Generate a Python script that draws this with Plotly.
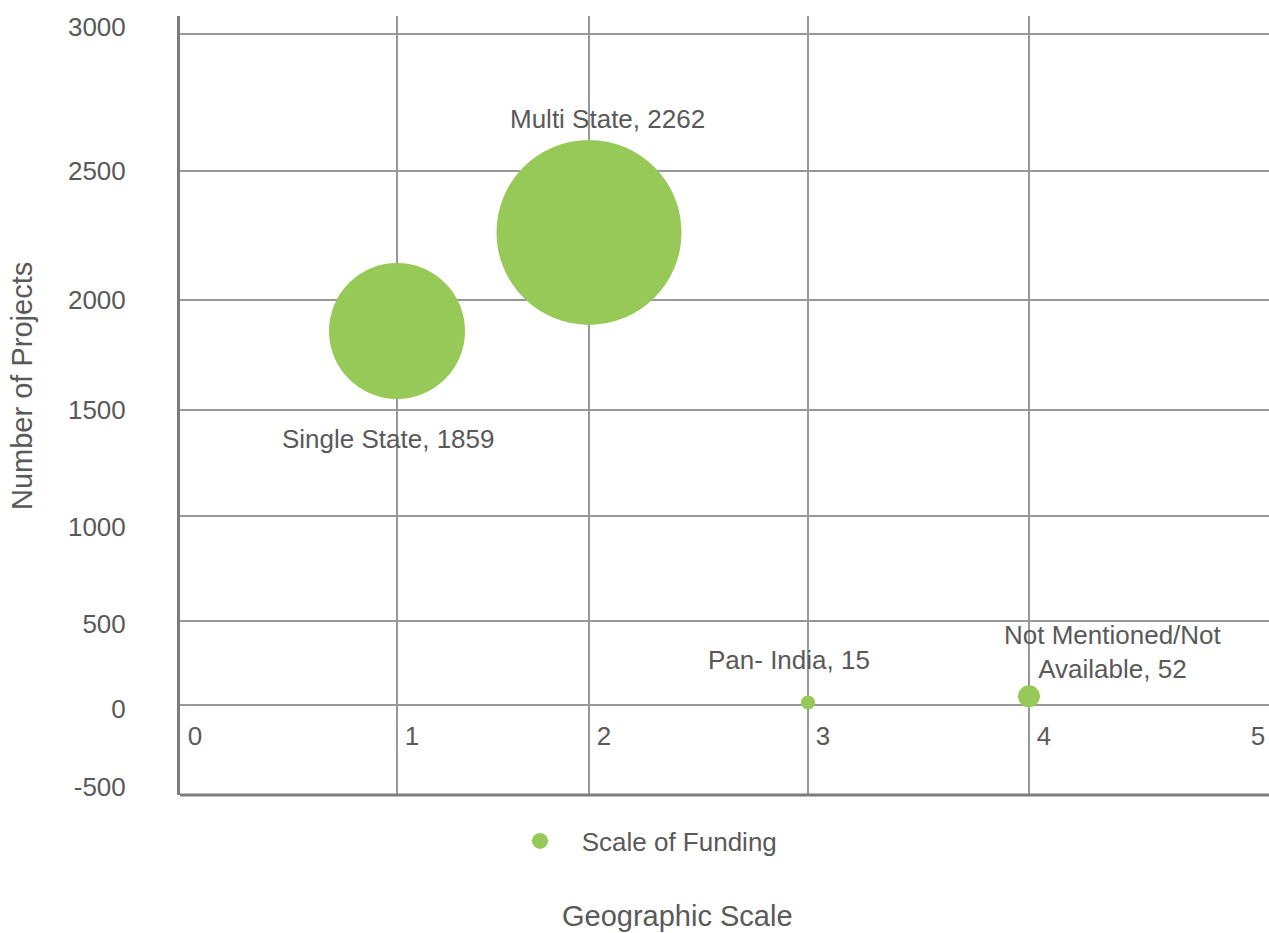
import textwrap
import numpy as np
import plotly.graph_objects as go

# ---------------- data ----------------
categories = ["Single State", "Multi State", "Pan- India", "Not Mentioned/Not Available"]
geo_scale = [1, 2, 3, 4]
num_projects = [1859, 2262, 15, 52]
scale_of_funding = [1850, 3420, 20, 48]   # relative funding (bubble area)

y_tick_vals = [-500, 0, 500, 1000, 1500, 2000, 2500, 3000]
y_tick_labels = ["-500", "0", "500", "1000", "1500", "2000", "2500", "3000"]
x_tick_vals = [0, 1, 2, 3, 4, 5]
x_tick_labels = ["0", "1", "2", "3", "4", "5"]
series_name = "Scale of Funding"
x_title = "Geographic Scale"
y_title = "Number of Projects"

# ---------------- style ----------------
FONT = "Liberation Sans, Arial, Helvetica, sans-serif"
TEXT = "#595959"
GRID = "#98989c"
AXIS = "#7d7d81"
GREEN = "#96c957"
W, H = 1269, 933
ML, MR, MT, MB = 180, 0, 16, 138
PW, PH = W - ML - MR, H - MT - MB

# the reference's gridlines are unevenly spaced: piecewise-linear axis scales
Y_STOPS = [0, 90, 174, 279, 385, 495, 624, 761]
Y_LABEL_NUDGE = [8, -4, -3, -11, 0, 0, 0, 7]
X_STOPS = [0, 217, 409, 628, 849, 1063]


def ymap(v):
    return np.interp(v, y_tick_vals, Y_STOPS)


def xmap(v):
    return np.interp(v, x_tick_vals, X_STOPS)


MAX_DIAM = 185
LABEL_SHIFT = [(-9, -108), (18, 113), (-19, 42), (84, 44)]

fig = go.Figure()
fig.add_trace(go.Scatter(
    x=xmap(geo_scale), y=ymap(num_projects),
    mode="markers",
    name="\u00a0\u00a0\u00a0" + series_name,
    marker=dict(size=scale_of_funding, sizemode="area",
                sizeref=2.0 * max(scale_of_funding) / MAX_DIAM ** 2,
                color=GREEN, opacity=1, line=dict(width=0)),
    hoverinfo="skip",
    cliponaxis=False,
))

for cat, gx, ny, (dx, dy) in zip(categories, geo_scale, num_projects, LABEL_SHIFT):
    label = "<br>".join(textwrap.wrap(f"{cat}, {ny}", 18))
    fig.add_annotation(x=float(xmap(gx)), y=float(ymap(ny)), xref="x", yref="y",
                       text=label, showarrow=False, xshift=dx, yshift=dy,
                       xanchor="center", yanchor="middle", align="center",
                       font=dict(family=FONT, size=26, color=TEXT))

fig.add_annotation(x=(677 - ML) / PW, y=(MT + PH - 916) / PH, xref="paper", yref="paper",
                   text=x_title, showarrow=False, xanchor="center", yanchor="middle",
                   font=dict(family=FONT, size=29, color=TEXT))
fig.add_annotation(x=(22 - ML) / PW, y=(MT + PH - 386) / PH, xref="paper", yref="paper",
                   text=y_title, showarrow=False, textangle=-90,
                   xanchor="center", yanchor="middle",
                   font=dict(family=FONT, size=29, color=TEXT))

# bottom axis line
fig.add_shape(type="line", xref="paper", yref="paper", x0=0, x1=1, y0=0, y1=0,
              line=dict(color=AXIS, width=3), layer="above")

fig.update_layout(
    width=W, height=H, autosize=False,
    margin=dict(l=ML, r=MR, t=MT, b=MB, pad=0),
    paper_bgcolor="white", plot_bgcolor="white",
    font=dict(family=FONT, size=26, color=TEXT),
    showlegend=True,
    legend=dict(orientation="h", x=(520 - ML) / PW, xanchor="left",
                y=(MT + PH - 841) / PH, yanchor="middle",
                font=dict(family=FONT, size=26, color=TEXT),
                bgcolor="rgba(0,0,0,0)", itemsizing="trace"),
    xaxis=dict(range=[0, PW], tickmode="array",
               tickvals=list(xmap(x_tick_vals)), ticktext=x_tick_labels,
               showgrid=False, zeroline=False, showline=False, ticks="",
               anchor="free", position=float(ymap(0)) / PH,
               ticklabelshift=15, ticklabelstandoff=13,
               tickfont=dict(family=FONT, size=26, color=TEXT),
               minor=dict(tickmode="array", tickvals=list(xmap(x_tick_vals[:-1])),
                          showgrid=True, gridcolor=GRID, gridwidth=2, ticks=""),
               fixedrange=True),
    yaxis=dict(range=[0, PH], tickmode="array",
               tickvals=[float(p) + n for p, n in zip(ymap(y_tick_vals), Y_LABEL_NUDGE)],
               ticktext=y_tick_labels,
               showgrid=False, zeroline=False, showline=True, linecolor=AXIS, linewidth=3,
               ticks="", ticklabelstandoff=46,
               tickfont=dict(family=FONT, size=26, color=TEXT),
               minor=dict(tickmode="array", tickvals=list(ymap(y_tick_vals)),
                          showgrid=True, gridcolor=GRID, gridwidth=2, ticks=""),
               fixedrange=True),
)

fig.write_html("out.html", config={"displayModeBar": False},
               post_script="document.body.style.margin='0';")
